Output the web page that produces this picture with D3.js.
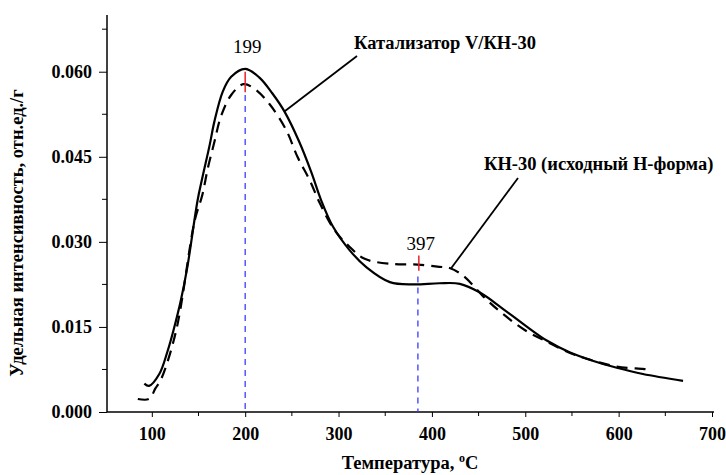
<!DOCTYPE html>
<html>
<head>
<meta charset="utf-8">
<script src="https://cdn.jsdelivr.net/npm/d3@7"></script>
<style>
  body { margin: 0; background: #fff; }
  svg text { font-family: "Liberation Serif", "Times New Roman", "DejaVu Serif", serif !important; }
</style>
</head>
<body>
<div id="chart"></div>
<script>
// Solid curve: Катализатор V/КН-30
var catT = [92, 97, 108, 117, 124, 131, 138, 149, 154, 162, 167, 176, 185, 200, 215, 229, 242, 258, 271, 281, 294, 312, 330, 355, 380, 408, 430, 451, 476, 498, 523, 548, 573, 598, 626, 669];
var catI = [0.0050, 0.0046, 0.0067, 0.0108, 0.0149, 0.0196, 0.0255, 0.0373, 0.0412, 0.0471, 0.0512, 0.0565, 0.0591, 0.0605, 0.0590, 0.0562, 0.0530, 0.0476, 0.0422, 0.0375, 0.0327, 0.0285, 0.0255, 0.0229, 0.0225, 0.0227, 0.0226, 0.0211, 0.0182, 0.0155, 0.0126, 0.0105, 0.0090, 0.0078, 0.0067, 0.0055];

// Dashed curve: КН-30 (исходный Н-форма)
var knT = [85, 97, 104, 110, 126, 146, 154, 160, 167, 174, 185, 198, 210, 226, 244, 256, 269, 280, 296, 312, 328, 358, 385, 408, 419, 433, 458, 476, 499, 523, 548, 572, 598, 626, 631];
var knI = [0.0023, 0.0023, 0.0042, 0.0058, 0.0143, 0.0338, 0.0382, 0.0430, 0.0476, 0.0521, 0.0559, 0.0578, 0.0570, 0.0543, 0.0497, 0.0450, 0.0409, 0.0368, 0.0320, 0.0291, 0.0270, 0.0261, 0.0260, 0.0256, 0.0254, 0.0241, 0.0199, 0.0173, 0.0145, 0.0124, 0.0104, 0.0091, 0.0080, 0.0076, 0.0075];

var xTicks = [100, 200, 300, 400, 500, 600, 700];
var xMinor = [150, 250, 350, 450, 550, 650];
var yTicks = [0, 0.015, 0.030, 0.045, 0.060];
var yMinor = [0.0075, 0.0225, 0.0375, 0.0525, 0.0675];

// Peak annotations
var peakLabels = ["199", "397"];
var peakT = [200, 385];          // blue dropline
var peakMarkT = [200, 386];      // red mark
var markTop = [0.0600, 0.0276];
var markBottom = [0.0564, 0.0249];
var dropTop = [0.0559, 0.0239];
var labelI = [0.0633, 0.0285];

var W = 726, H = 475;
var svg = d3.select("#chart").append("svg")
  .attr("width", W).attr("height", H);

var x = d3.scaleLinear().domain([52, 700]).range([107, 712]);
var y = d3.scaleLinear().domain([0, 0.07]).range([412, 15]);

// Axes
var xAxis = svg.append("g")
  .attr("transform", "translate(0," + y(0) + ")")
  .call(d3.axisBottom(x).tickValues(xTicks).tickSize(5).tickPadding(10).tickFormat(d3.format("d")));
xAxis.select(".domain").attr("d", "M107,0H714").attr("stroke-width", 1.5);
xAxis.append("g").selectAll("line").data(xMinor).enter().append("line")
  .attr("x1", function(d) { return x(d); }).attr("x2", function(d) { return x(d); })
  .attr("y1", 0).attr("y2", 4).attr("stroke", "#000");

var yAxis = svg.append("g")
  .attr("transform", "translate(" + x(52) + ",0)")
  .call(d3.axisLeft(y).tickValues(yTicks).tickSize(8).tickPadding(7).tickFormat(d3.format(".3f")));
yAxis.select(".domain").attr("d", "M0,412V15").attr("stroke-width", 1.5);
yAxis.append("g").selectAll("line").data(yMinor).enter().append("line")
  .attr("y1", function(d) { return y(d); }).attr("y2", function(d) { return y(d); })
  .attr("x1", 0).attr("x2", -5).attr("stroke", "#000");

svg.selectAll("g").attr("font-family", null);
svg.selectAll(".tick text")
  .style("font-size", "18px")
  .style("font-weight", "bold")
  .attr("fill", "#000");

// Axis titles
svg.append("text")
  .attr("x", 410).attr("y", 469)
  .attr("text-anchor", "middle")
  .style("font-size", "18.5px").style("font-weight", "bold")
  .html("Температура, <tspan dy='-7' font-size='12px'>o</tspan><tspan dy='7'>C</tspan>");

svg.append("text")
  .attr("transform", "translate(23,233) rotate(-90)")
  .attr("text-anchor", "middle")
  .style("font-size", "18.5px").style("font-weight", "bold")
  .text("Удельная интенсивность, отн.ед./г");

// Droplines at peaks
svg.append("g").selectAll("line").data(peakT).enter().append("line")
  .attr("x1", function(d) { return x(d); }).attr("x2", function(d) { return x(d); })
  .attr("y1", function(d, i) { return y(dropTop[i]); })
  .attr("y2", y(0))
  .attr("stroke", "#3b3bff").attr("stroke-width", 1.3)
  .attr("stroke-dasharray", "6,5");

// Curves
var line = d3.line()
  .x(function(d) { return x(d[0]); })
  .y(function(d) { return y(d[1]); })
  .curve(d3.curveCatmullRom);

svg.append("path")
  .datum(d3.zip(catT, catI))
  .attr("d", line)
  .attr("fill", "none").attr("stroke", "#000").attr("stroke-width", 2.2);

svg.append("path")
  .datum(d3.zip(knT, knI))
  .attr("d", line)
  .attr("fill", "none").attr("stroke", "#000").attr("stroke-width", 2.2)
  .attr("stroke-dasharray", "11,7");

// Red peak marks
svg.append("g").selectAll("line").data(peakMarkT).enter().append("line")
  .attr("x1", function(d) { return x(d); }).attr("x2", function(d) { return x(d); })
  .attr("y1", function(d, i) { return y(markTop[i]); })
  .attr("y2", function(d, i) { return y(markBottom[i]); })
  .attr("stroke", "#e8202a").attr("stroke-width", 1.5);

// Peak labels
svg.append("g").selectAll("text").data(peakLabels).enter().append("text")
  .attr("x", function(d, i) { return x(peakMarkT[i]) + 2; })
  .attr("y", function(d, i) { return y(labelI[i]); })
  .attr("text-anchor", "middle")
  .style("font-size", "19px")
  .text(function(d) { return d; });

// Series labels with leader lines
svg.append("line")
  .attr("x1", 357).attr("y1", 56).attr("x2", x(242)).attr("y2", y(0.0530))
  .attr("stroke", "#000").attr("stroke-width", 1.8);
svg.append("text")
  .attr("x", 354).attr("y", 49)
  .style("font-size", "18.5px").style("font-weight", "bold")
  .text("Катализатор V/КН-30");

svg.append("line")
  .attr("x1", 518).attr("y1", 178).attr("x2", x(420)).attr("y2", y(0.0252))
  .attr("stroke", "#000").attr("stroke-width", 1.8);
svg.append("text")
  .attr("x", 484).attr("y", 170)
  .style("font-size", "18.5px").style("font-weight", "bold")
  .text("КН-30 (исходный Н-форма)");
</script>
</body>
</html>
